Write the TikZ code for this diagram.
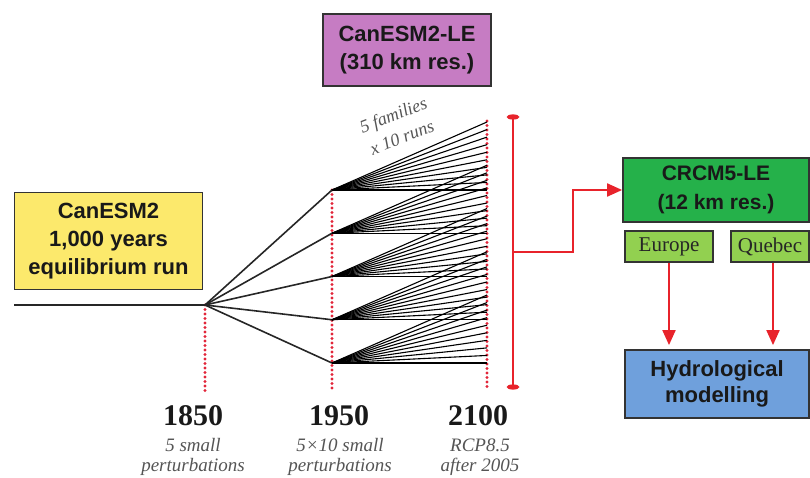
\documentclass[tikz,border=0pt]{standalone}
\usepackage{fontspec}
\setmainfont{Liberation Serif}
\setsansfont{Liberation Sans}
\usetikzlibrary{arrows.meta}
\definecolor{boxyellow}{HTML}{FCE96C}
\definecolor{boxpurple}{HTML}{C67CC3}
\definecolor{boxgreen}{HTML}{25B14A}
\definecolor{boxlgreen}{HTML}{92D050}
\definecolor{boxblue}{HTML}{6FA0DC}
\definecolor{bordercol}{HTML}{333333}
\definecolor{arrred}{HTML}{E8232B}
\definecolor{dotred}{HTML}{E2263A}
\definecolor{subgray}{HTML}{555555}
\begin{document}
\begin{tikzpicture}[x=1pt,y=-1pt,
  box/.style={draw=bordercol, line width=1.8pt, align=center, inner sep=0pt,
    text=black!90, font=\sffamily\bfseries\fontsize{22}{28}\selectfont},
  regbox/.style={draw=bordercol, line width=1.6pt, fill=boxlgreen, inner sep=0pt,
    text=black!85, font=\rmfamily\fontsize{21}{24}\selectfont},
  reddot/.style={draw=dotred, line width=3.2pt, line cap=round, dash pattern=on 0pt off 4.5pt},
  redline/.style={draw=arrred, line width=2pt},
  redarrow/.style={draw=arrred, line width=2pt, -{Triangle[length=15pt,width=13pt]}},
  branch/.style={draw=black!85, line width=1.6pt},
  run/.style={draw=black, line width=1.1pt},
  yearlab/.style={anchor=base, font=\rmfamily\bfseries\fontsize{30}{32}\selectfont, text=black!90},
  sublab/.style={anchor=base, align=center, font=\rmfamily\itshape\fontsize{19}{20}\selectfont, text=subgray},
]
\useasboundingbox (0,0) rectangle (810,478);

% boxes
\node[box, fill=boxyellow, minimum width=188pt, minimum height=97pt] (canesm) at (108.5,241) {CanESM2\\1,000 years\\equilibrium run};
\node[box, fill=boxpurple, minimum width=168pt, minimum height=72pt] (le) at (407,50) {CanESM2-LE\\(310 km res.)};
\node[box, fill=boxgreen, minimum width=186pt, minimum height=64pt, font=\sffamily\bfseries\fontsize{21}{29}\selectfont] (crcm) at (716,190) {CRCM5-LE\\(12 km res.)};
\node[regbox, minimum width=88pt, minimum height=31pt] (europe) at (669,246.5) {Europe};
\node[regbox, minimum width=78pt, minimum height=31pt] (quebec) at (770,246.5) {Quebec};
\node[box, fill=boxblue, minimum width=184pt, minimum height=68pt, font=\sffamily\bfseries\fontsize{22}{26}\selectfont] (hydro) at (717,384) {Hydrological\\modelling};

% timeline coordinates
\coordinate (start) at (14,305);
\coordinate (b1850) at (205,305);
\coordinate (d1850) at (205,393);
\coordinate (t1950) at (332,190);
\coordinate (d1950) at (332,390);
\coordinate (t2100) at (487,121);
\coordinate (d2100) at (487,390);

% red dotted time lines
\draw[reddot] (b1850) -- (d1850);
\draw[reddot] (t1950) -- (d1950);
\draw[reddot] (t2100) -- (d2100);

% baseline
\draw[branch, line width=2pt] (start) -- (b1850);

% families
\foreach \i in {0,...,4}{
  \coordinate (n\i) at (332,{190+43.25*\i});
  \draw[branch] (b1850) -- (n\i);
  \foreach \j in {0,...,9}{
    \coordinate (e\i-\j) at (487,{190+43.25*\i-68*\j/9});
    \draw[run] (n\i) -- (e\i-\j);
  }
}

% label families
\node[rotate=21, align=center, font=\rmfamily\itshape\fontsize{18}{24}\selectfont, text=subgray] (fam) at (397.5,126) {5 families\\x 10 runs};

% bracket
\coordinate (bt) at (513,117);
\coordinate (bb) at (513,387);
\coordinate (bm) at (513,252);
\draw[redline] (bt) -- (bb);
\fill[arrred] (bt) ellipse [x radius=6.5pt, y radius=2.6pt];
\fill[arrred] (bb) ellipse [x radius=6.5pt, y radius=2.6pt];
\coordinate (elbow) at (573,252);
\draw[redarrow] (bm) -- (elbow) |- (crcm.west);

% arrows to hydrological modelling
\draw[redarrow, shorten >=4pt] (europe.south) -- (europe.south |- hydro.north);
\draw[redarrow, shorten >=4pt] ([xshift=3pt]quebec.south) -- ([xshift=3pt]quebec.south |- hydro.north);

% year labels
\node[yearlab] (y1850) at (193,425) {1850};
\node[yearlab] (y1950) at (339,425) {1950};
\node[yearlab] (y2100) at (478,425) {2100};
\node[sublab] (s1850) at (193,471) {5 small\\perturbations};
\node[sublab] (s1950) at (340,471) {5\texttimes10 small\\perturbations};
\node[sublab] (s2100) at (480,471) {RCP8.5\\after 2005};
\end{tikzpicture}
\end{document}
